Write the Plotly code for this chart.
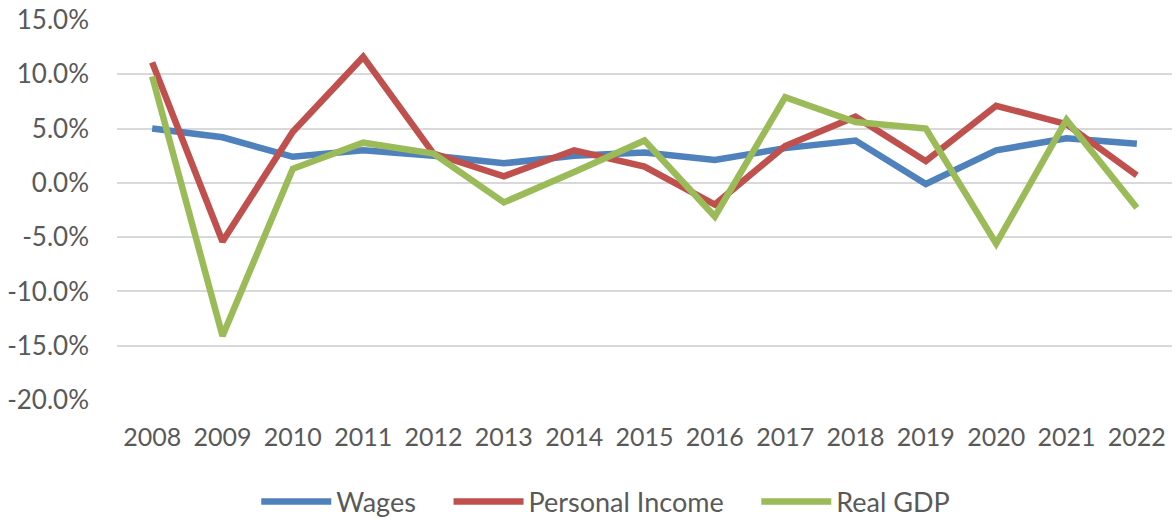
import plotly.graph_objects as go

years = ["2008", "2009", "2010", "2011", "2012", "2013", "2014", "2015",
         "2016", "2017", "2018", "2019", "2020", "2021", "2022"]
wages = [5.0, 4.2, 2.4, 3.0, 2.5, 1.8, 2.5, 2.8, 2.1, 3.2, 3.9, -0.1, 3.0, 4.1, 3.6]
personal_income = [11.1, -5.4, 4.7, 11.6, 2.7, 0.6, 3.0, 1.5, -2.0, 3.4, 6.1, 2.0, 7.1, 5.4, 0.7]
real_gdp = [9.8, -14.1, 1.3, 3.7, 2.7, -1.8, 1.0, 3.9, -3.1, 7.9, 5.6, 5.0, -5.6, 5.8, -2.3]

y_tick_values = [-20, -15, -10, -5, 0, 5, 10, 15]
y_tick_labels = ["-20.0%", "-15.0%", "-10.0%", "-5.0%", "0.0%", "5.0%", "10.0%", "15.0%"]

series = [
    ("Wages", wages, "#4F81BD"),
    ("Personal Income", personal_income, "#C0504D"),
    ("Real GDP", real_gdp, "#9BBB59"),
]

font_family = "Lato, 'Open Sans', sans-serif"
text_color = "#595959"
pad = "\u00a0" * 4

fig = go.Figure()
for name, vals, color in series:
    fig.add_trace(go.Scatter(
        x=years,
        y=[v / 100 for v in vals],
        mode="lines",
        name=name + pad,
        line=dict(color=color, width=6.5),
    ))

fig.update_layout(
    width=1175,
    height=519,
    margin=dict(l=117, r=3, t=20, b=119),
    paper_bgcolor="white",
    plot_bgcolor="white",
    font=dict(family=font_family, size=25, color=text_color),
    showlegend=True,
    legend=dict(
        orientation="h",
        x=0.132,
        xanchor="left",
        yref="container",
        y=0.033,
        yanchor="middle",
        font=dict(family=font_family, size=27, color=text_color),
        itemwidth=70,
        tracegroupgap=0,
    ),
    xaxis=dict(
        type="category",
        range=[-0.5, 14.5],
        showgrid=False,
        showline=False,
        zeroline=False,
        ticks="",
        automargin=False,
        ticklabelstandoff=20,
        ticklabeloverflow="allow",
        tickfont=dict(family=font_family, size=25, color=text_color),
    ),
    yaxis=dict(
        range=[-0.20, 0.15],
        tickvals=[v / 100 for v in y_tick_values],
        ticktext=y_tick_labels,
        showgrid=True,
        gridcolor="#D9D9D9",
        gridwidth=1.5,
        zeroline=False,
        showline=False,
        ticks="",
        automargin=False,
        ticklabelstandoff=27,
        ticklabeloverflow="allow",
        tickfont=dict(family=font_family, size=26, color=text_color),
    ),
)

# remove the browser's default 8px body margin so the figure fills the window
fig.write_html(
    "out.html",
    config={"displayModeBar": False},
    post_script="document.body.style.margin='0';",
)
